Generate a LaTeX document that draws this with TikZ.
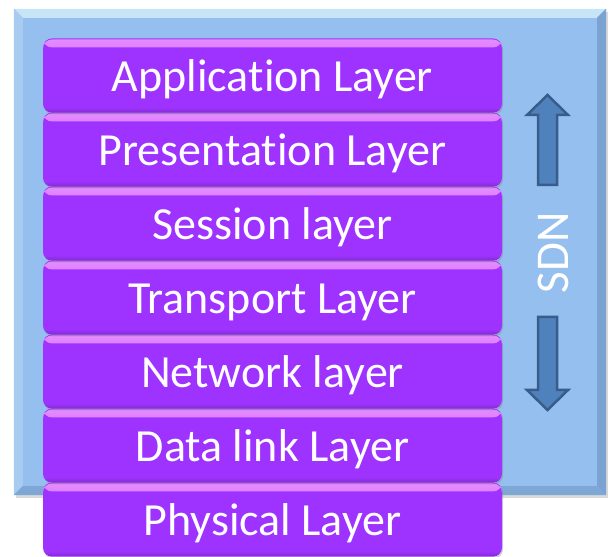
\documentclass[tikz,border=0pt]{standalone}
\usepackage{fontspec}
\setmainfont[Ligatures=NoCommon]{Carlito}
\usetikzlibrary{shadows,calc}
\definecolor{bgface}{HTML}{95BFEE}
\definecolor{bevtop}{HTML}{C8E4F7}
\definecolor{bevleft}{HTML}{A8CCEF}
\definecolor{bevright}{HTML}{7BA3D1}
\definecolor{bevbot}{HTML}{7FA7D5}
\definecolor{barpurple}{HTML}{9E33FF}
\definecolor{barpink}{HTML}{E88CFF}
\definecolor{arrfill}{HTML}{4F81BD}
\definecolor{arrline}{HTML}{385D8A}
\tikzset{
  bgbox/.style={fill=bgface, draw=none, inner sep=0pt,
    drop shadow={shadow xshift=2pt, shadow yshift=-3pt, opacity=0.3}},
  layerbox/.style={fill=barpurple, draw=none, rounded corners=9pt,
    minimum width=459pt, minimum height=74pt, inner sep=0pt,
    text height=40pt, text depth=7pt,
    text=white, font=\fontsize{46}{50}\selectfont,
    drop shadow={shadow xshift=1pt, shadow yshift=-2pt, opacity=0.35},
    path picture={
      \shade[top color=barpink, bottom color=barpurple]
        ([yshift=-1pt]path picture bounding box.north west) rectangle
        ([yshift=-9pt]path picture bounding box.north east);
      \shade[top color=barpurple, bottom color=barpurple!82!black]
        ([yshift=5pt]path picture bounding box.south west) rectangle
        (path picture bounding box.south east);
    }},
  sdnarrow/.style={fill=arrfill, draw=arrline, line width=2.5pt, line join=miter},
  sdnlabel/.style={text=white, font=\fontsize{47}{50}\selectfont, rotate=90, inner sep=0pt}
}
\begin{document}
\begin{tikzpicture}[x=1pt,y=1pt]
\useasboundingbox (0,0) rectangle (611,557);
% blue background with bevel
\node[bgbox, minimum width=592pt, minimum height=486pt] (bg) at (310,305) {};
\fill[bevtop] (bg.north west) -- (bg.north east) -- ($(bg.north east)+(-9,-9)$) -- ($(bg.north west)+(9,-9)$) -- cycle;
\fill[bevleft] (bg.north west) -- ($(bg.north west)+(9,-9)$) -- ($(bg.south west)+(9,9)$) -- (bg.south west) -- cycle;
\fill[bevright] (bg.north east) -- (bg.south east) -- ($(bg.south east)+(-9,9)$) -- ($(bg.north east)+(-9,-9)$) -- cycle;
\fill[bevbot] (bg.south west) -- ($(bg.south west)+(9,9)$) -- ($(bg.south east)+(-9,9)$) -- (bg.south east) -- cycle;
% layers
\node[layerbox] (phy) at (272.5,37.5) {Physical Layer};
\node[layerbox] (dl)  at (272.5,111.5) {Data link Layer};
\node[layerbox] (net) at (272.5,185.5) {Network layer};
\node[layerbox] (tr)  at (272.5,259.5) {Transport Layer};
\node[layerbox] (ses) at (272.5,333.5) {Session layer};
\node[layerbox] (pre) at (272.5,407.5) {Presentation Layer};
\node[layerbox] (app) at (272.5,481.5) {Application Layer};
% SDN arrows and label
\draw[sdnarrow] (538,372) -- (538,442) -- (527,442) -- (547.5,462) -- (568,442) -- (557,442) -- (557,372) -- cycle;
\draw[sdnarrow] (538,240) -- (538,167) -- (527,167) -- (547.5,147) -- (568,167) -- (557,167) -- (557,240) -- cycle;
\node[sdnlabel] (sdn) at (553,304) {SDN};
\end{tikzpicture}
\end{document}
